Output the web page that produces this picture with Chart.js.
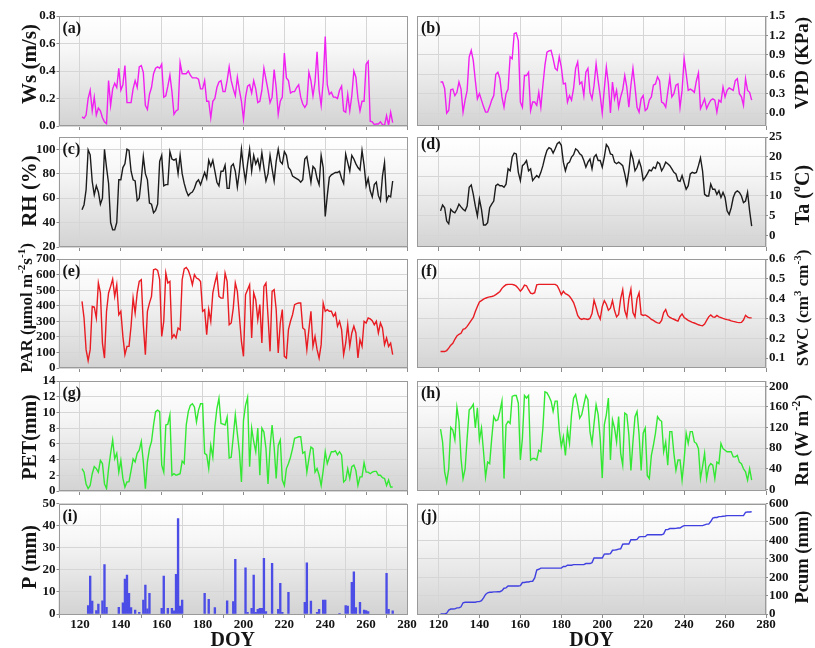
<!DOCTYPE html>
<html>
<head>
<meta charset="utf-8">
<title>Daily meteorological variables</title>
<script src="https://cdn.jsdelivr.net/npm/chart.js@4.4.1/dist/chart.umd.min.js"></script>
<style>
  html, body { margin: 0; padding: 0; background: #fff; }
  #fig { position: relative; width: 815px; height: 648px; overflow: hidden; }
  #fig canvas { position: absolute; left: 0; top: 0; }
</style>
</head>
<body>
<div id="fig"></div>
<script>
// daily series start at DOY 121 and run to DOY 273
const firstDoy = 121;
const doyTicks = [120, 140, 160, 180, 200, 220, 240, 260, 280];

const wsValues = [
  0.066,0.056,0.08,0.2,0.26,0.11,0.21,0.08,0.13,0.11,
  0.06,0.03,0.017,0.33,0.15,0.27,0.31,0.28,0.42,0.26,
  0.3,0.44,0.17,0.17,0.17,0.27,0.33,0.28,0.43,0.44,
  0.39,0.15,0.12,0.23,0.28,0.38,0.42,0.43,0.42,0.45,
  0.21,0.22,0.29,0.37,0.25,0.085,0.11,0.12,0.46,0.38,
  0.38,0.38,0.4,0.37,0.35,0.35,0.35,0.34,
  0.27,0.27,0.33,0.18,0.18,0.06,0.18,0.2,0.28,0.32,
  0.33,0.25,0.25,0.33,0.43,0.33,0.27,0.22,0.355,0.26,
  0.18,0.05,0.21,0.29,0.3,0.24,0.33,0.27,0.17,0.18,
  0.26,0.42,0.34,0.26,0.17,0.21,0.41,0.28,0.085,0.18,
  0.21,0.53,0.35,0.33,0.24,0.25,0.25,0.28,0.3,0.21,
  0.16,0.135,0.16,0.39,0.33,0.22,0.32,0.54,0.26,0.15,
  0.32,0.65,0.3,0.23,0.245,0.21,0.21,0.2,0.26,0.29,
  0.11,0.1,0.23,0.11,0.22,0.4,0.355,0.2,0.11,0.18,
  0.18,0.45,0.47,0.035,0.03,0.01,0.015,0.015,0.03,0.01,
  0.005,0.075,0.005,0.1,0.025
];

const vpdValues = [
  0.48,0.48,0.38,0.0,0.04,0.36,0.37,0.27,0.32,0.48,
  0.37,0.015,0.2,0.35,0.87,0.97,0.81,0.5,0.22,0.3,
  0.2,0.1,0.015,0.015,0.1,0.2,0.27,0.6,0.63,0.53,
  0.25,0.09,0.3,0.37,0.87,0.84,1.23,1.24,1.12,0.17,
  0.09,0.58,0.58,0.63,0.04,0.17,0.17,0.12,0.32,0.09,
  0.43,0.74,0.94,0.96,0.97,0.84,0.69,0.66,0.87,
  0.71,0.45,0.46,0.17,0.27,0.2,0.38,0.69,0.79,0.45,
  0.48,0.27,0.63,0.69,0.32,0.22,0.43,0.76,0.5,0.27,
  0.0,0.37,0.71,0.45,0.0,0.48,0.22,0.35,0.09,0.25,
  0.36,0.58,0.4,0.09,0.43,0.69,0.4,0.09,0.015,0.22,
  0.27,0.04,0.07,0.2,0.25,0.43,0.45,0.56,0.5,0.17,
  0.15,0.09,0.32,0.55,0.25,0.3,0.43,0.45,0.09,
  0.35,0.84,0.61,0.35,0.37,0.35,0.32,0.5,0.62,
  0.07,0.14,0.22,0.07,0.14,0.2,0.22,0.2,0.015,0.2,
  0.17,0.4,0.25,0.35,0.39,0.37,0.35,0.5,0.53,0.3,
  0.25,0.12,0.53,0.35,0.32,0.2
];

const rhValues = [
  50.5,54.6,66.8,99.5,95.4,73.6,62.7,70,65,55,
  60,100,85,72,40,34,34,40,75,75,85,
  88,100,99,82,75,74,58,60,75,
  94,80,75,56,55,48,50,55,90,95,
  70,71,71,98,92,91,92,80,95,80,
  72,66,62,64,65,68,73,75,71,
  76,81,76,91,86,91,82,73,70,82,
  82,87,68,68,86,88,82,69,82,100,
  85,74,88,100,82,95,88,92,84,97,
  85,74,80,95,84,74,90,100,90,88,
  98,95,85,83,78,77,76,75,73,75,
  92,94,84,73,86,84,76,71,95,
  85,45,62,77,79,80,81,81,82,76,
  72,96,89,82,95,92,88,85,83,99,
  87,70,76,66,61,71,73,62,58,
  78,89,58,62,61,74
];

const taValues = [
  6.2,7.7,7,3.6,2.9,6.6,6,5.7,6.6,7.9,
  7.2,6.6,6.2,7.4,12.2,12.8,10.4,7.4,4.9,9.2,
  6.6,2.6,2.6,3.2,7,7.9,8.7,12.6,13,12.6,
  12.6,12.2,13,16.9,16.4,19.9,20.9,20.7,16,13.9,
  17.7,18.2,19,16.4,16.9,13.9,14.6,15.2,14.7,16,
  17.7,19.9,21.6,22.3,22,20.9,22,23.3,23.7,22.9,
  18.6,16.4,18.2,18.6,19.9,20.5,22,21.6,20.7,
  20.3,19,17.3,18.6,19.4,16.9,19.9,20.5,19,19,
  17.3,19.9,23.1,22.4,20.7,20.5,18.6,18.2,18.6,
  18.2,17.7,15.6,13,16.4,21.1,19.4,16.4,17.3,19,
  17.3,14,14.7,15.6,16.6,16.4,17.3,17,18.6,18.2,
  16.4,17.3,18.6,18.2,17.7,16.9,16,15.6,13.9,13.7,
  15.2,13.4,11.7,12.6,15.6,16,15.8,16,17.7,19.7,
  16.4,10.4,10,10,13,11.7,11.7,10.4,11.3,
  9.6,10.9,9.6,6.2,5.3,7,9.6,10.9,11.3,10.9,
  10,8.3,8.7,10.9,6.2,2.3
];

const parValues = [
  428,321,118,47,118,396,392,321,546,482,
  160,64,364,482,524,571,460,535,342,364,
  203,86,139,139,268,449,353,482,556,567,
  278,86,364,417,460,631,636,627,567,203,
  300,610,546,556,193,214,193,257,246,
  567,636,646,627,589,535,599,578,571,556,
  364,375,214,375,300,482,546,599,460,449,
  449,610,556,278,289,385,546,492,332,171,
  75,471,503,535,193,482,439,310,407,160,
  524,546,332,107,492,503,375,96,289,375,
  75,64,246,300,342,407,413,417,417,
  257,246,118,246,364,139,203,118,64,
  150,417,364,375,364,364,332,353,268,300,
  246,86,160,278,139,225,268,225,64,182,
  139,300,289,321,315,304,278,300,225,289,
  257,150,193,139,160,86
];

const swcValues = [
  0.133,0.133,0.133,0.138,0.15,0.165,0.175,0.195,0.212,0.22,
  0.225,0.245,0.248,0.26,0.275,0.29,0.305,0.335,0.36,0.383,
  0.39,0.397,0.402,0.406,0.409,0.411,0.414,0.42,0.428,0.436,
  0.452,0.462,0.47,0.472,0.472,0.472,0.469,0.463,0.452,0.438,
  0.45,0.468,0.465,0.445,0.428,0.425,0.43,0.47,0.472,0.472,
  0.472,0.472,0.472,0.472,0.472,0.472,0.472,0.465,0.445,0.42,
  0.437,0.425,0.42,0.412,0.398,0.38,0.35,0.315,0.3,0.295,
  0.3,0.297,0.295,0.3,0.325,0.392,0.358,0.32,0.297,0.36,
  0.39,0.372,0.342,0.352,0.39,0.34,0.308,0.32,0.4,0.445,
  0.34,0.308,0.4,0.448,0.33,0.308,0.4,0.43,0.32,0.315,
  0.318,0.312,0.305,0.295,0.29,0.283,0.278,0.276,0.29,0.33,
  0.345,0.315,0.305,0.3,0.296,0.291,0.287,0.31,0.323,0.305,
  0.298,0.29,0.285,0.28,0.277,0.273,0.268,0.265,0.263,0.272,
  0.29,0.308,0.318,0.308,0.306,0.315,0.308,0.304,0.3,0.297,
  0.294,0.292,0.288,0.285,0.283,0.28,0.279,0.28,0.292,0.316,
  0.307,0.303,0.303
];

const petValues = [
  2.85,2.4,0.9,0.3,0.7,2.2,3.1,2.85,2.4,3.9,
  3.5,0.9,0.3,2.85,4.8,6.5,4.1,4.8,2.4,3.9,
  1.6,0.5,1.15,1.2,2.6,4.1,3.7,4.8,5.2,6.3,
  3.7,0.3,3.7,5.4,6.3,8.4,10.1,10.3,10.1,3.3,
  2.4,8.4,8.5,9.7,2.0,2.2,2.0,2.1,2.2,3.8,
  3.5,8.4,10.1,10.9,11.1,10.7,8.8,10.3,11.1,
  11.1,4.8,4.6,2.85,5.8,4.3,8.2,10.5,11.8,8.6,
  8.5,8.4,9.4,4.2,4.3,6.9,9.7,7.3,5.0,
  1.15,9.0,10.9,11.9,3.1,8.0,6.3,5.0,8.0,2.0,
  8.0,7.5,5.4,0.9,5.6,8.4,5.6,1.6,5.8,6.5,
  1.4,0.7,2.85,3.5,4.3,5.4,6.7,6.8,6.9,6.9,
  4.8,5.0,2.4,4.1,5.6,5.4,2.4,2.85,2.0,0.7,
  2.6,5.0,3.5,4.3,5.0,5.0,5.1,4.6,5.0,4.6,
  1.15,1.4,2.85,1.6,3.1,3.3,2.6,0.7,1.8,1.8,
  3.6,2.4,2.4,2.2,2.4,2.5,2.5,2.0,2.0,
  1.7,1.6,0.7,1.4,0.5,0.5
];

const rnValues = [
  117,92,34,14,40,120,115,96,159,132,
  60,21,40,99,154,158,165,119,158,96,
  119,73,24,53,50,99,141,133,135,151,
  171,21,125,132,128,180,182,182,167,57,
  99,182,177,182,57,60,60,57,76,73,
  119,189,187,180,171,151,171,171,115,
  83,102,66,115,89,145,177,184,164,138,
  145,164,182,174,112,89,128,164,145,99,
  22,125,145,177,57,135,119,92,141,70,
  47,148,145,106,37,92,141,151,106,37,
  109,119,27,21,66,86,109,141,135,132,
  73,92,47,112,112,70,37,57,57,
  18,57,109,89,112,112,92,89,79,
  21,44,70,21,44,50,47,21,53,50,
  89,79,76,73,73,73,63,63,66,53,
  50,40,34,18,40,18
];

// rain events: day of year and daily total (mm)
const rainDoy = [
  124,125,126,128,129,131,132,133,139,141,
  142,143,144,145,147,149,151,152,153,154,
  160,161,163,165,166,167,168,169,170,181,
  183,186,192,195,196,201,202,204,205,206,
  207,208,209,210,211,214,217,218,219,222,
  230,231,233,236,237,239,240,247,250,251,
  253,254,255,257,259,260,261,270,271,273
];
const rainMm = [
  3.8,17.2,5.9,1.5,4.5,6,22.4,3,3,5.1,
  15.8,17.6,9.3,2.9,1.8,0.8,6.3,13.1,2.3,9.3,
  2.6,17.2,2.6,2.6,1.4,17.9,43.2,3.6,6.3,9.3,
  6.6,2.9,6,5.6,24.7,20.9,0.8,2.6,17.6,0.8,
  2.1,2.6,2.6,25.2,1.1,22.9,2.1,13.9,0.8,9.8,
  5.3,23.2,5.9,0.8,2.1,6.3,6.3,0.3,3.8,3.6,
  14.3,19.1,2.9,5.3,1.8,1.5,1.1,18.4,2.1,1.4
];

const pcumValues = [
  0,0,0,4,21,27,27,28,33,33,
  39,61,64,64,64,64,64,64,67,67,
  72,88,106,115,118,118,120,120,121,121,
  127,140,142,152,152,152,152,152,152,154,
  171,171,174,174,177,178,196,239,243,249,
  249,249,249,249,249,249,249,249,249,249,
  258,258,265,265,265,268,268,268,268,268,
  268,274,274,274,279,304,304,304,304,304,
  325,326,326,328,346,347,349,352,354,379,
  380,380,380,403,403,403,405,419,420,420,
  420,430,430,430,430,430,430,430,430,435,
  458,458,464,464,464,465,467,467,474,480,
  480,480,480,480,480,480,480,480,480,484,
  488,488,502,521,524,524,529,529,531,532,
  534,534,534,534,534,534,534,534,534,552,
  554,554,555
];

const wsTicks = [0, 0.2, 0.4, 0.6, 0.8];
const vpdTicks = [0, 0.3, 0.6, 0.9, 1.2, 1.5];
const rhTicks = [20, 40, 60, 80, 100];
const taTicks = [0, 5, 10, 15, 20, 25];
const parTicks = [0, 100, 200, 300, 400, 500, 600, 700];
const swcTicks = [0.1, 0.2, 0.3, 0.4, 0.5, 0.6];
const petTicks = [0, 2, 4, 6, 8, 10, 12, 14];
const rnTicks = [0, 40, 80, 120, 160, 200];
const pTicks = [0, 10, 20, 30, 40, 50];
const pcumTicks = [0, 100, 200, 300, 400, 500, 600];

// ---- layout ----
const FIG_W = 815, FIG_H = 648;
const SERIF = '"Liberation Serif", "Times New Roman", Times, serif';
const INK = '#141414';
const GRID = '#d6d6d6';
const TICK = '#8c8c8c';
const AXIS_W = 40;
const COLS = [{ left: 58.5, right: 407 }, { left: 417, right: 766 }];
const ROWS = [
  { top: 16, bottom: 126 },
  { top: 137, bottom: 247 },
  { top: 259, bottom: 368 },
  { top: 381, bottom: 491 },
  { top: 503.5, bottom: 614 }
];

const MAGENTA = '#f020f0', DARK = '#1c1c1c', RED = '#e81c22', GREEN = '#33e833', BLUE = '#4040e0';

const panels = [
  { tag: '(a)', col: 0, row: 0, values: wsValues, color: MAGENTA, min: 0, max: 0.8, ticks: wsTicks, dec: 1,
    title: [['Ws (m/s)']], titleY: 64, titleSize: 21 },
  { tag: '(b)', col: 1, row: 0, values: vpdValues, color: MAGENTA, min: -0.2, max: 1.5, ticks: vpdTicks, dec: 1,
    title: [['VPD (KPa)']], titleY: 63, titleSize: 19 },
  { tag: '(c)', col: 0, row: 1, values: rhValues, color: DARK, min: 20, max: 110, ticks: rhTicks, dec: 0,
    title: [['RH (%)']], titleY: 191, titleSize: 21 },
  { tag: '(d)', col: 1, row: 1, values: taValues, color: DARK, min: -3, max: 25, ticks: taTicks, dec: 0,
    title: [['Ta ('], ['o', true], ['C)']], titleY: 195, titleSize: 20, tagDy: 8 },
  { tag: '(e)', col: 0, row: 2, values: parValues, color: RED, min: 0, max: 700, ticks: parTicks, dec: 0,
    title: [['PAR (\u03bcmol m'], ['-2', true], ['s'], ['-1', true], [')']], titleY: 308, titleSize: 17,
    titleX: 26 },
  { tag: '(f)', col: 1, row: 2, values: swcValues, color: RED, min: 0.05, max: 0.6, ticks: swcTicks, dec: 1,
    title: [['SWC (cm'], ['3', true], [' cm'], ['-3', true], [')']], titleY: 308, titleSize: 17 },
  { tag: '(g)', col: 0, row: 3, values: petValues, color: GREEN, min: 0, max: 14, ticks: petTicks, dec: 0,
    title: [['PET(mm)']], titleY: 437, titleSize: 20 },
  { tag: '(h)', col: 1, row: 3, values: rnValues, color: GREEN, min: -3, max: 210, ticks: rnTicks, dec: 0,
    title: [['Rn (W m'], ['-2', true], [')']], titleY: 440, titleSize: 19 },
  { tag: '(i)', col: 0, row: 4, bars: true, color: BLUE, min: 0, max: 50, ticks: pTicks, dec: 0,
    title: [['P (mm)']], titleY: 557, titleSize: 20 },
  { tag: '(j)', col: 1, row: 4, values: pcumValues, color: BLUE, min: 0, max: 600, ticks: pcumTicks, dec: 0,
    title: [['Pcum (mm)']], titleY: 557, titleSize: 18.5 }
];

function daily(values) {
  return values.map((v, i) => ({ x: firstDoy + i, y: v }));
}

// rotated axis title, reading bottom to top, with optional superscripts
function drawTitle(ctx, parts, x, y, size) {
  const big = 'bold ' + size + 'px ' + SERIF;
  const small = 'bold ' + Math.round(size * 0.62) + 'px ' + SERIF;
  const widths = parts.map(([t, sup]) => { ctx.font = sup ? small : big; return ctx.measureText(t).width; });
  const total = widths.reduce((s, w) => s + w, 0);
  ctx.save();
  ctx.translate(x, y);
  ctx.rotate(-Math.PI / 2);
  ctx.textAlign = 'left';
  ctx.textBaseline = 'alphabetic';
  ctx.fillStyle = INK;
  const base = size * 0.34;
  let cx = -total / 2;
  parts.forEach(([t, sup], i) => {
    ctx.font = sup ? small : big;
    ctx.fillText(t, cx, sup ? base - size * 0.42 : base);
    cx += widths[i];
  });
  ctx.restore();
}

const panelDecor = {
  id: 'panelDecor',
  beforeDraw(chart) {
    const { ctx, chartArea: a } = chart;
    const g = ctx.createLinearGradient(0, a.top, 0, a.bottom);
    g.addColorStop(0, '#ffffff');
    g.addColorStop(0.3, '#f7f7f7');
    g.addColorStop(1, '#d3d3d3');
    ctx.save();
    ctx.fillStyle = g;
    ctx.fillRect(a.left, a.top, a.right - a.left, a.bottom - a.top);
    ctx.restore();
  },
  afterDraw(chart, args, opts) {
    const { ctx, chartArea: a } = chart;
    ctx.save();
    ctx.strokeStyle = '#9a9a9a';
    ctx.lineWidth = 1;
    ctx.strokeRect(Math.round(a.left) + 0.5, Math.round(a.top) + 0.5,
      Math.round(a.right - a.left) - 1, Math.round(a.bottom - a.top) - 1);
    ctx.fillStyle = INK;
    ctx.font = 'bold 16px ' + SERIF;
    ctx.textAlign = 'left';
    ctx.textBaseline = 'middle';
    ctx.fillText(opts.tag, a.left + 4, a.top + opts.tagDy);
    ctx.restore();
    drawTitle(ctx, opts.title, opts.titleX, opts.titleY, opts.titleSize);
  }
};

const fig = document.getElementById('fig');

function makePanel(p) {
  const cv = document.createElement('canvas');
  cv.width = FIG_W;
  cv.height = FIG_H;
  fig.appendChild(cv);

  const col = COLS[p.col], row = ROWS[p.row];
  const onRight = p.col === 1;
  const bottomRow = p.row === ROWS.length - 1;
  const xh = bottomRow ? FIG_H - row.bottom : 5;
  const padding = {
    top: row.top,
    bottom: FIG_H - row.bottom - xh,
    left: onRight ? col.left : col.left - AXIS_W,
    right: onRight ? FIG_W - col.right - AXIS_W : FIG_W - col.right
  };

  const dataset = p.bars
    ? { type: 'bar', data: rainDoy.map((d, i) => ({ x: d, y: rainMm[i] })),
        backgroundColor: '#4c4ce6', borderWidth: 0, barThickness: 1.7 }
    : { type: 'line', data: daily(p.values), borderColor: p.color, borderWidth: 1.4,
        pointRadius: 0, tension: 0, fill: false };

  const tickFont = { family: SERIF, size: 13, weight: 'bold' };

  new Chart(cv, {
    type: p.bars ? 'bar' : 'line',
    data: { datasets: [dataset] },
    options: {
      responsive: false,
      animation: false,
      events: [],
      layout: { padding },
      plugins: {
        legend: { display: false },
        tooltip: { enabled: false },
        panelDecor: {
          tag: p.tag, tagDy: p.tagDy || 13, title: p.title, titleY: p.titleY,
          titleSize: p.titleSize, titleX: p.titleX || (onRight ? 802 : 29)
        }
      },
      scales: {
        x: {
          type: 'linear', min: 109.5, max: 280, offset: false,
          afterBuildTicks: s => { s.ticks = doyTicks.map(v => ({ value: v })); },
          afterFit: s => { s.height = xh; },
          grid: { color: GRID, tickColor: TICK, tickLength: 4 },
          border: { display: false },
          ticks: { display: bottomRow, color: INK, font: tickFont, padding: -1,
                   maxRotation: 0, autoSkip: false },
          title: { display: bottomRow, text: 'DOY', color: INK, padding: 0,
                   font: { family: SERIF, size: 20, weight: 'bold', lineHeight: 0.75 } }
        },
        y: {
          position: onRight ? 'right' : 'left',
          min: p.min, max: p.max,
          afterBuildTicks: s => { s.ticks = p.ticks.map(v => ({ value: v })); },
          afterFit: s => { s.width = AXIS_W; },
          grid: { color: GRID, tickColor: TICK, tickLength: 2 },
          border: { display: false },
          ticks: { color: INK, font: tickFont, padding: 1, autoSkip: false,
                   callback: v => Number(v).toFixed(p.dec) }
        }
      }
    },
    plugins: [panelDecor]
  });
}

panels.forEach(makePanel);
</script>
</body>
</html>
